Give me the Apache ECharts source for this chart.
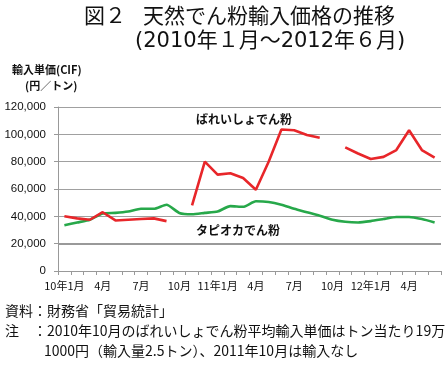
<!DOCTYPE html>
<html><head><meta charset="utf-8">
<script src="https://cdn.jsdelivr.net/npm/echarts@6/dist/echarts.min.js"></script>
<style>html,body{margin:0;padding:0;background:#fff}#c{width:448px;height:369px}</style>
</head><body><div id="c"></div>
<script>
var categories = ['10年1月','2','3','4月','5','6','7月','8','9','10月','11','12',
  '11年1月','2','3','4月','5','6','7月','8','9','10月','11','12',
  '12年1月','2','3','4月','5','6'];
var tickLabels = ['10年1月','4月','7月','10月','11年1月','4月','7月','10月','12年1月','4月'];
var potato = [40000,38500,37500,43000,37000,37500,38000,38500,36500,null,
  48000,80000,70500,71500,68000,59500,80000,103500,103000,99500,
  97500,null,90500,86000,82000,83500,88500,103000,88500,83000];
var tapioca = [33500,35500,37500,42000,42500,43500,45500,45500,48500,42500,
  41500,42500,43500,47500,47000,51000,50500,48500,45500,43000,
  40500,37500,36000,35500,36500,38000,39500,39500,38000,35500];
var yTicks = [0,20000,40000,60000,80000,100000,120000];

var font = '"Noto Sans CJK JP", "Noto Sans", sans-serif';
var tfont = '"DejaVu Sans", "Noto Sans CJK JP", sans-serif';
var chart = echarts.init(document.getElementById('c'));
var labelIdx = {};
categories.forEach(function(c,i){ if(i%3===0) labelIdx[i]=tickLabels[i/3]; });
chart.setOption({
  animation:false,
  backgroundColor:'#fff',
  textStyle:{fontFamily:font},
  graphic:[
    {type:'text',left:84,top:5,style:{text:'図２',font:'21px '+font,fill:'#111'}},
    {type:'text',left:143,top:5,style:{text:'天然でん粉輸入価格の推移',font:'21px '+font,fill:'#111'}},
    {type:'text',left:135,top:31,style:{text:'(2010年１月～2012年６月)',font:'21px '+tfont,fill:'#111'}},
    {type:'text',left:12,top:64,style:{text:'輸入単価(CIF)',font:'bold 11px '+font,fill:'#111'}},
    {type:'text',left:25,top:80,style:{text:'(円／トン)',font:'bold 11px '+font,fill:'#111'}},
    {type:'text',left:196,top:113,style:{text:'ばれいしょでん粉',font:'bold 12px '+font,fill:'#111'}},
    {type:'text',left:196,top:224,style:{text:'タピオカでん粉',font:'bold 12px '+font,fill:'#111'}},
    {type:'text',left:5,top:304,style:{text:'資料：財務省「貿易統計」',font:'14px '+font,fill:'#111'}},
    {type:'text',left:5,top:324,style:{text:'注　：2010年10月のばれいしょでん粉平均輸入単価はトン当たり19万',font:'14px '+font,fill:'#111'}},
    {type:'text',left:44,top:344,style:{text:'1000円（輸入量2.5トン）、2011年10月は輸入なし',font:'14px '+font,fill:'#111'}}
  ],
  grid:{left:58,right:7,top:107,bottom:98},
  xAxis:{
    type:'category',data:categories,boundaryGap:true,
    axisLine:{lineStyle:{color:'#999',width:1}},
    axisTick:{show:true,interval:0,length:4,lineStyle:{color:'#999'}},
    axisLabel:{interval:0,color:'#111',fontSize:11,fontFamily:font,margin:9,
      formatter:function(v,i){return labelIdx[i]!==undefined?labelIdx[i]:'';}},
    splitLine:{show:false}
  },
  yAxis:{
    type:'value',min:yTicks[0],max:yTicks[yTicks.length-1],interval:20000,
    axisLine:{show:true,lineStyle:{color:'#999'}},
    axisTick:{show:true,length:4,lineStyle:{color:'#999'}},
    axisLabel:{color:'#111',fontSize:11.5,fontFamily:'Arial, "Liberation Sans", sans-serif',margin:12,
      formatter:function(v){return v.toLocaleString('en-US');}},
    splitLine:{lineStyle:{color:'#a0a0a0',width:1}}
  },
  series:[
    {name:'ばれいしょでん粉',type:'line',data:potato,symbol:'none',connectNulls:false,
      lineStyle:{color:'#e8262a',width:2.6},itemStyle:{color:'#e8262a'},z:3},
    {name:'タピオカでん粉',type:'line',data:tapioca,symbol:'none',smooth:0.2,
      lineStyle:{color:'#27a84a',width:2.6},itemStyle:{color:'#27a84a'},z:2,
      markLine:{silent:true,symbol:'none',label:{show:false},
        lineStyle:{color:'#999',width:2,type:'solid'},data:[{yAxis:20000}]}}
  ]
});
</script></body></html>
